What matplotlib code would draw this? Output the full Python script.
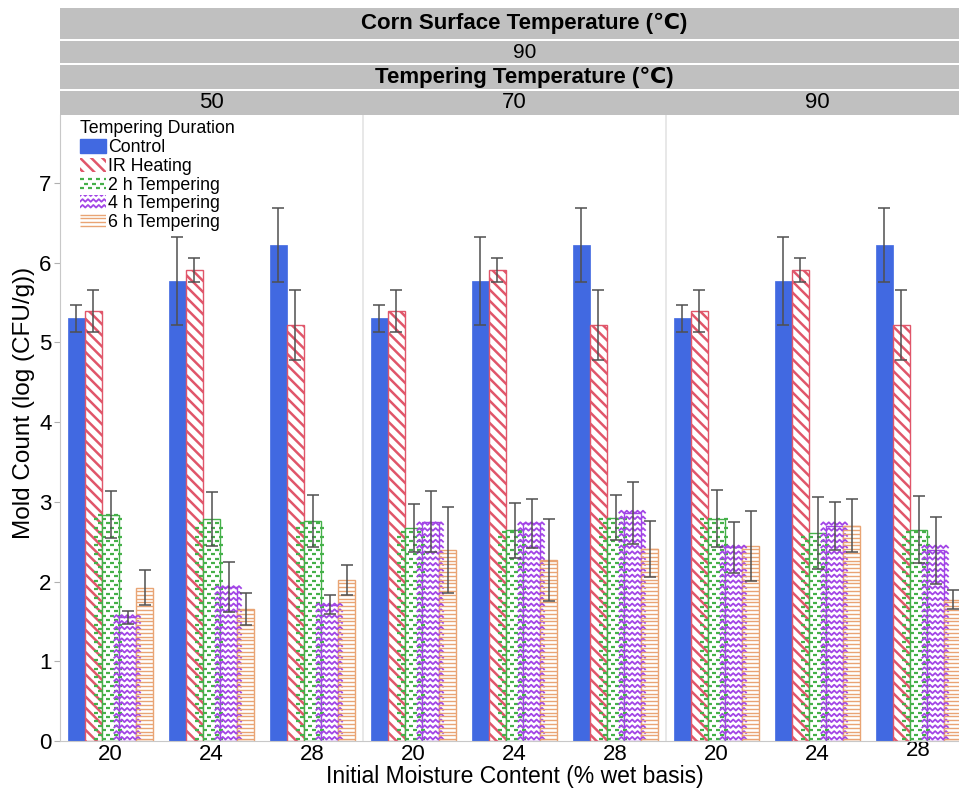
import matplotlib
matplotlib.use('Agg')
import matplotlib.pyplot as plt
import matplotlib.patches as mpatches
import matplotlib.transforms as mtransforms
from matplotlib.collections import LineCollection
from matplotlib.legend_handler import HandlerBase
import numpy as np

plt.rcParams.update({
    'font.family': ['Liberation Sans', 'DejaVu Sans'],
    'hatch.linewidth': 1.8,
})

# ---- data ----
moisture = ['20', '24', '28']
temper_temps = ['50', '70', '90']
series_names = ['Control', 'IR Heating', '2 h Tempering', '4 h Tempering', '6 h Tempering']

control = [5.30, 5.77, 6.22, 5.30, 5.77, 6.22, 5.30, 5.77, 6.22]
control_err = [0.17, 0.55, 0.47, 0.17, 0.55, 0.47, 0.17, 0.55, 0.47]
ir_heat = [5.39, 5.91, 5.22, 5.39, 5.91, 5.22, 5.39, 5.91, 5.22]
ir_heat_err = [0.26, 0.15, 0.44, 0.26, 0.15, 0.44, 0.26, 0.15, 0.44]
temp_2h = [2.84, 2.78, 2.76, 2.67, 2.64, 2.80, 2.79, 2.61, 2.65]
temp_2h_err = [0.30, 0.34, 0.33, 0.30, 0.34, 0.28, 0.36, 0.45, 0.42]
temp_4h = [1.55, 1.93, 1.71, 2.75, 2.73, 2.86, 2.43, 2.70, 2.39]
temp_4h_err = [0.08, 0.31, 0.12, 0.38, 0.31, 0.39, 0.32, 0.30, 0.42]
temp_6h = [1.92, 1.65, 2.02, 2.40, 2.27, 2.41, 2.45, 2.70, 1.77]
temp_6h_err = [0.22, 0.20, 0.19, 0.54, 0.52, 0.35, 0.44, 0.33, 0.12]

C_BLUE = '#4169E1'
C_RED = '#E0566A'
C_GREEN = '#45B049'
C_PURPLE = '#A245E6'
C_ORANGE = '#E9A474'
C_ERR = '#505050'
C_BAND = '#C0C0C0'


def pattern_segments(kind, x0, y0, w, h, ppx, ppy):
    """line segments (in data units) for a fill pattern; spacing given in pixels"""
    W, H = w * ppx, h * ppy
    segs = []
    if kind == 'dash':
        per, dash = 8.0, 4.0
        for i, yy in enumerate(np.arange(2.0, H, 4.4)):
            shift = per / 2 * (i % 2)
            for xx in np.arange(-per + shift, W, per):
                segs.append([(xx, yy), (xx + dash, yy)])
    elif kind == 'zigzag':
        per, amp = 5.4, 2.6
        for yy in np.arange(1.5, H + amp, 5.8):
            xs = np.arange(-per, W + per, per / 2)
            ys = yy + amp * (np.arange(len(xs)) % 2)
            segs.append(list(zip(xs, ys)))
    elif kind == 'hline':
        for yy in np.arange(1.8, H, 3.8):
            segs.append([(0, yy), (W, yy)])
    return [[(x0 + px / ppx, y0 + py / ppy) for px, py in s] for s in segs]


PATTERN_LW = {'dash': 1.6, 'zigzag': 1.3, 'hline': 1.0}


class PatternHandler(HandlerBase):
    def __init__(self, kind, color):
        super().__init__()
        self.kind, self.color = kind, color

    def create_artists(self, legend, orig_handle, xdescent, ydescent, width, height, fontsize, trans):
        rect = mpatches.Rectangle((-xdescent, -ydescent), width, height, facecolor='white',
                                  edgecolor='none', transform=trans)
        k = legend.figure.dpi / 72.0
        segs = pattern_segments(self.kind, -xdescent, -ydescent, width, height, k, k)
        lc = LineCollection(segs, colors=self.color, linewidths=PATTERN_LW[self.kind], transform=trans)
        lc.set_clip_path(rect)
        return [rect, lc]


fig = plt.figure(figsize=(9.59, 7.9), dpi=100)
W_PX, H_PX = 959, 790
ax = fig.add_axes([60 / W_PX, 49 / H_PX, 909 / W_PX, 626 / H_PX])
ax.set_zorder(1)
ymax = 7.85
ax.set_xlim(0, 9)
ax.set_ylim(0, ymax)

n = len(control)
centers = np.arange(n) + 0.5
bw = 0.17
ppx = ax.bbox.width / 9
ppy = ax.bbox.height / ymax

values = [control, ir_heat, temp_2h, temp_4h, temp_6h]
errors = [control_err, ir_heat_err, temp_2h_err, temp_4h_err, temp_6h_err]
styles = [
    dict(color=C_BLUE, edgecolor=C_BLUE, lw=0.5),
    dict(color='white', edgecolor=C_RED, hatch='\\\\\\', lw=1.0),
    dict(color='white', edgecolor=C_GREEN, lw=1.0),
    dict(color='white', edgecolor=C_PURPLE, lw=1.0),
    dict(color='white', edgecolor=C_ORANGE, lw=1.0),
]
kinds = [None, None, ('dash', C_GREEN), ('zigzag', C_PURPLE), ('hline', C_ORANGE)]

for k, (vals, errs, st, kd) in enumerate(zip(values, errors, styles, kinds)):
    xs = centers + (k - 2) * bw
    bars = ax.bar(xs, vals, width=bw, zorder=2, **st)
    if kd is not None:
        kind, col = kd
        for b in bars:
            segs = pattern_segments(kind, b.get_x(), b.get_y(), b.get_width(), b.get_height(), ppx, ppy)
            lc = LineCollection(segs, colors=col, linewidths=PATTERN_LW[kind], zorder=2.5)
            lc.set_clip_path(b)
            ax.add_collection(lc)
    ax.errorbar(xs, vals, yerr=errs, fmt='none', ecolor=C_ERR, elinewidth=1.1,
                capsize=4.3, capthick=1.1, zorder=3)

# panel separators
for xv in [3, 6]:
    ax.axvline(xv, color='#E4E4E4', lw=1.2, zorder=0)

# axes styling
for s in ['top', 'right']:
    ax.spines[s].set_visible(False)
for s in ['left', 'bottom']:
    ax.spines[s].set_color('#C8C8C8')
ax.set_yticks(range(8))
ax.tick_params(axis='y', labelsize=16, length=4, color='#B0B0B0', pad=2)
ax.set_xticks(centers)
ax.set_xticklabels(moisture * 3)
ax.tick_params(axis='x', labelsize=16, length=0, pad=2)
# last label sits a little higher in the reference
nudge = [0, 0, 0, 0, 0, 0, 0, 0, 3]
for lab, d in zip(ax.get_xticklabels(), nudge):
    lab.set_transform(lab.get_transform() + mtransforms.ScaledTranslation(0, d / 72, fig.dpi_scale_trans))
ax.set_xlabel('Initial Moisture Content (% wet basis)', fontsize=16.5)
ax.xaxis.set_label_coords(0.5, -0.0385)
ax.set_ylabel('Mold Count (log (CFU/g))', fontsize=17.5)
ax.yaxis.set_label_coords(-0.028, 0.54)

# header bands
rows = [(8, 39), (41, 63), (65, 89), (91, 115)]
for top, bot in rows:
    fig.patches.append(mpatches.Rectangle((60 / W_PX, 1 - bot / H_PX), 1, (bot - top) / H_PX,
                                          transform=fig.transFigure, facecolor=C_BAND,
                                          edgecolor='none', zorder=0))
hx = 4.6
tr = mtransforms.blended_transform_factory(ax.transData, fig.transFigure)
ax.text(hx, 1 - 23.5 / H_PX, 'Corn Surface Temperature (℃)', transform=tr, ha='center', va='center',
        fontsize=16, fontweight='bold', clip_on=False)
ax.text(hx, 1 - 52 / H_PX, '90', transform=tr, ha='center', va='center', fontsize=15, clip_on=False)
ax.text(hx, 1 - 77 / H_PX, 'Tempering Temperature (℃)', transform=tr, ha='center', va='center',
        fontsize=16, fontweight='bold', clip_on=False)
for i, t in enumerate(temper_temps):
    ax.text(centers[3 * i + 1], 1 - 103 / H_PX, t, transform=tr, ha='center', va='center',
            fontsize=16, clip_on=False)

# legend
handles = [mpatches.Patch(facecolor=C_BLUE, edgecolor=C_BLUE),
           mpatches.Patch(facecolor='white', edgecolor='white', hatch='\\\\\\', lw=0),
           mpatches.Patch(), mpatches.Patch(), mpatches.Patch()]
hmap = {handles[2]: PatternHandler('dash', C_GREEN),
        handles[3]: PatternHandler('zigzag', C_PURPLE),
        handles[4]: PatternHandler('hline', C_ORANGE)}
leg = ax.legend(handles, series_names, handler_map=hmap, title='Tempering Duration',
                loc='upper left', bbox_to_anchor=(0.016, 1.0), frameon=False, fontsize=12.8,
                title_fontsize=12.8, labelspacing=0.1, handlelength=1.45, handleheight=0.8,
                handletextpad=0.15, borderpad=0.2, borderaxespad=0.1, alignment='left')
# red stripes in the IR legend key
leg.get_patches()[1].set_edgecolor(C_RED)
leg.get_patches()[1].set_linewidth(0)

fig.savefig('out.png', dpi=100, facecolor='white')
